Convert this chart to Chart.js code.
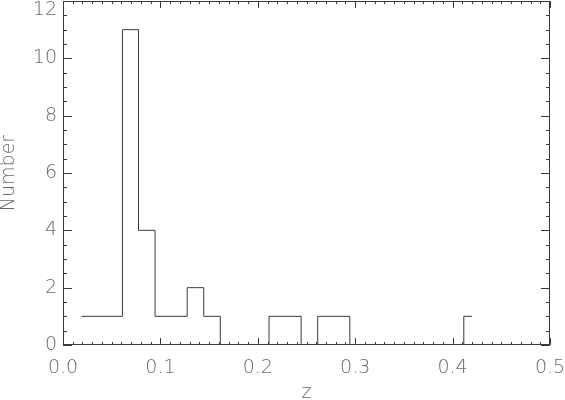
<!DOCTYPE html>
<html>
<head>
<meta charset="utf-8">
<script src="https://cdn.jsdelivr.net/npm/chart.js@4/dist/chart.umd.min.js"></script>
<style>
  html, body { margin: 0; padding: 0; background: #fff; }
  #wrap { width: 565px; height: 400px; }
</style>
</head>
<body>
<div id="wrap"><canvas id="chartCanvas"></canvas></div>
<script>
// histogram of z, bins (bin centres)
const zCentres = [0.019, 0.036, 0.053, 0.069, 0.086, 0.103, 0.119, 0.136, 0.153, 0.170,
                  0.186, 0.203, 0.220, 0.236, 0.253, 0.270, 0.286, 0.303, 0.320, 0.337,
                  0.353, 0.370, 0.387, 0.403, 0.420];
const counts = [1, 1, 1, 11, 4, 1, 1, 2, 1, 0,
                0, 0, 1, 1, 0, 1, 1, 0, 0, 0,
                0, 0, 0, 0, 1];
const xTickLabels = ['0.0', '0.1', '0.2', '0.3', '0.4', '0.5'];
const yTickLabels = ['0', '2', '4', '6', '8', '10', '12'];

const FONT = '"DejaVu Sans", sans-serif';
const TEXT = '#6a6a6a';
const INK = '#3a3a3a';

const points = zCentres.map((z, i) => ({ x: z, y: counts[i] }));

// IDL-style box with inward ticks on all four sides
const boxTicks = {
    id: 'boxTicks',
    afterDatasetsDraw(chart) {
        const { ctx, chartArea: a, scales } = chart;
        const sx = scales.x, sy = scales.y;
        ctx.save();
        ctx.strokeStyle = INK;
        ctx.lineWidth = 1;
        ctx.beginPath();
        ctx.rect(a.left + 0.5, a.top + 0.5, a.right - a.left - 1, a.bottom - a.top - 1);
        ctx.stroke();
        ctx.beginPath();
        for (let i = 0; i <= 50; i++) {
            const px = Math.round(sx.getPixelForValue(i / 100)) + 0.5;
            const len = i % 10 === 0 ? 7 : 3;
            ctx.moveTo(px, a.bottom); ctx.lineTo(px, a.bottom - len);
            ctx.moveTo(px, a.top); ctx.lineTo(px, a.top + len);
        }
        for (let j = 0; j <= 24; j++) {
            const py = Math.round(sy.getPixelForValue(j / 2)) + 0.5;
            const len = j % 4 === 0 ? 9 : 4;
            ctx.moveTo(a.left, py); ctx.lineTo(a.left + len, py);
            ctx.moveTo(a.right, py); ctx.lineTo(a.right - len, py);
        }
        ctx.stroke();
        ctx.restore();
    }
};

const ctx = document.getElementById('chartCanvas');
window.myChart = new Chart(ctx, {
    type: 'line',
    data: {
        datasets: [{
            label: 'Number',
            data: points,
            stepped: 'middle',
            borderColor: INK,
            borderWidth: 1,
            pointRadius: 0,
            fill: false
        }]
    },
    options: {
        responsive: true,
        maintainAspectRatio: false,
        animation: false,
        layout: { padding: { top: 1, left: 0, right: 0, bottom: 0 } },
        plugins: { legend: { display: false }, tooltip: { enabled: false } },
        scales: {
            x: {
                type: 'linear',
                min: 0,
                max: 0.5,
                grid: { display: false, drawTicks: false },
                border: { display: false },
                afterBuildTicks: s => { s.ticks = xTickLabels.map(t => ({ value: parseFloat(t) })); },
                ticks: {
                    padding: 14,
                    color: TEXT,
                    font: { family: FONT, size: 19, weight: 200, lineHeight: 1 },
                    maxRotation: 0,
                    callback: (v, i) => xTickLabels[i]
                },
                title: {
                    display: true,
                    text: 'z',
                    color: TEXT,
                    padding: { top: 0, bottom: -3 },
                    font: { family: FONT, size: 19, weight: 200, lineHeight: 1 }
                },
                afterFit: s => { s.height = 55; s.paddingLeft = 0; s.paddingRight = 15; }
            },
            y: {
                min: 0,
                max: 12,
                grid: { display: false, drawTicks: false },
                border: { display: false },
                afterBuildTicks: s => { s.ticks = yTickLabels.map(t => ({ value: parseFloat(t) })); },
                ticks: {
                    padding: 6,
                    color: TEXT,
                    font: { family: FONT, size: 19, weight: 200, lineHeight: 1 },
                    // top label pushed down half a line so it stays inside the page
                    callback: (v, i) => i === yTickLabels.length - 1 ? ['', yTickLabels[i]] : yTickLabels[i]
                },
                title: {
                    display: true,
                    text: 'Number',
                    color: TEXT,
                    padding: 0,
                    font: { family: FONT, size: 19, weight: 200, lineHeight: 1 }
                },
                afterFit: s => { s.width = 63; s.paddingTop = 0; s.paddingBottom = 0; }
            }
        }
    },
    plugins: [boxTicks]
});
</script>
</body>
</html>
